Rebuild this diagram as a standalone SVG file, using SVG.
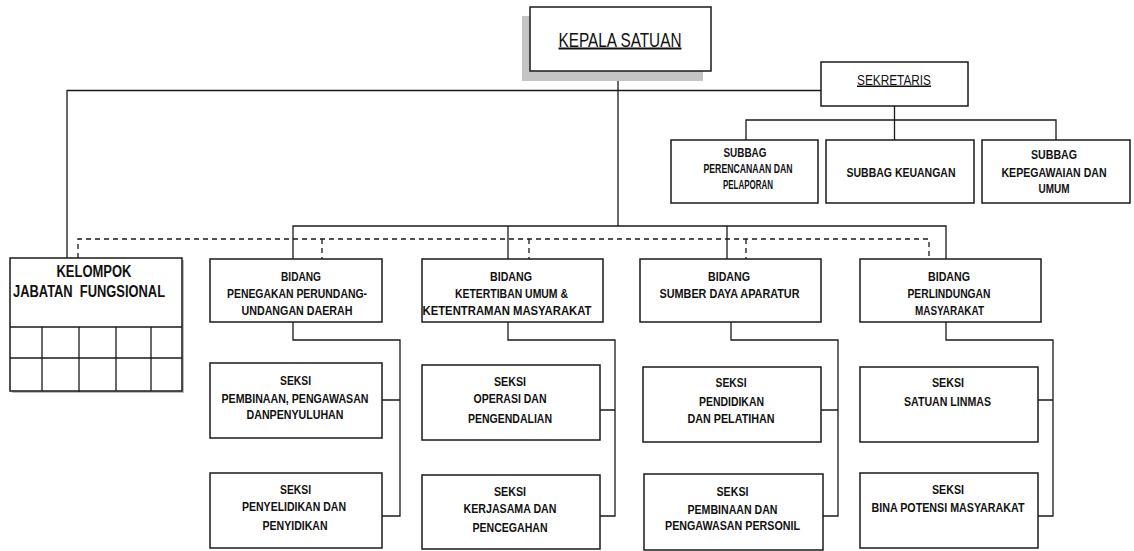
<svg xmlns="http://www.w3.org/2000/svg" width="1134" height="551" viewBox="0 0 1134 551">
<style>
.box{fill:#fff;stroke:#1a1a1a;stroke-width:1.5}
.ln{fill:none;stroke:#1a1a1a;stroke-width:1.3}
.dash{fill:none;stroke:#1a1a1a;stroke-width:1.3;stroke-dasharray:5,4}
text{font-family:"Liberation Sans",Arial,sans-serif;fill:#111;text-anchor:middle}
.b{font-weight:bold;font-size:12px}
.k{font-weight:bold;font-size:16px}
.t{font-size:20px;text-decoration:underline}
.s{font-size:15px;text-decoration:underline}
</style>
<rect width="1134" height="551" fill="#fff"/>
<g id="connectors">
<path class="ln" d="M618 71V226"/>
<path class="ln" d="M293 259V226H946V259M508 226V259M727 226V259"/>
<path class="ln" d="M67 258V90.5H821"/>
<path class="ln" d="M894.5 106V140M746 140V120H1056V140"/>
<path class="dash" d="M78 258V239H929V259M322 239V259M529 239V259M746 239V259"/>
<path class="ln" d="M293 322V340H400V516H382M382 400H400"/>
<path class="ln" d="M508 322V340H615V516H600M600 410H615"/>
<path class="ln" d="M731 322V340H838V516H822M821 410H838"/>
<path class="ln" d="M946 322V340H1053V516H1038M1038 400H1053"/>
</g>
<g id="kepala">
<rect x="522" y="16" width="181" height="65" fill="#c4c4c4"/>
<rect class="box" x="530" y="7" width="181" height="64"/>
<text class="t" x="620" y="46.5" textLength="123" lengthAdjust="spacingAndGlyphs">KEPALA SATUAN</text>
</g>
<g id="sekretaris">
<rect class="box" x="821" y="62" width="147" height="44"/>
<text class="s" x="894" y="84.5" textLength="74" lengthAdjust="spacingAndGlyphs">SEKRETARIS</text>
</g>
<g id="subbag1">
<rect class="box" x="671" y="140" width="147" height="63"/>
<text class="b" x="745" y="156.5" textLength="43" lengthAdjust="spacingAndGlyphs">SUBBAG</text>
<text class="b" x="748" y="173" textLength="89" lengthAdjust="spacingAndGlyphs">PERENCANAAN DAN</text>
<text class="b" x="748" y="189" textLength="50" lengthAdjust="spacingAndGlyphs">PELAPORAN</text>
</g>
<g id="subbag2">
<rect class="box" x="826" y="140" width="148" height="63"/>
<text class="b" x="901" y="177" textLength="109" lengthAdjust="spacingAndGlyphs">SUBBAG KEUANGAN</text>
</g>
<g id="subbag3">
<rect class="box" x="982" y="140" width="148" height="63"/>
<text class="b" x="1054" y="159" textLength="46" lengthAdjust="spacingAndGlyphs">SUBBAG</text>
<text class="b" x="1054" y="177" textLength="105" lengthAdjust="spacingAndGlyphs">KEPEGAWAIAN DAN</text>
<text class="b" x="1054" y="193" textLength="31" lengthAdjust="spacingAndGlyphs">UMUM</text>
</g>
<g id="kelompok">
<rect x="12" y="260" width="172" height="133" fill="#bdbdbd"/>
<rect class="box" x="10" y="258" width="172" height="133"/>
<path class="ln" d="M10 327H182" stroke-width="2"/>
<path class="ln" d="M10 358H182M42 327V391M79 327V392M116 327V391M151 327V391"/>
<text class="k" x="94" y="277" textLength="75" lengthAdjust="spacingAndGlyphs">KELOMPOK</text>
<text class="k" x="89" y="297" textLength="152" lengthAdjust="spacingAndGlyphs" xml:space="preserve">JABATAN  FUNGSIONAL</text>
</g>
<g id="bidang1">
<rect class="box" x="210" y="259" width="172" height="63"/>
<text class="b" x="301" y="280.5" textLength="40" lengthAdjust="spacingAndGlyphs">BIDANG</text>
<text class="b" x="297" y="298" textLength="140" lengthAdjust="spacingAndGlyphs">PENEGAKAN PERUNDANG-</text>
<text class="b" x="297" y="315" textLength="111" lengthAdjust="spacingAndGlyphs">UNDANGAN DAERAH</text>
</g>
<g id="bidang2">
<rect class="box" x="422" y="259" width="181" height="63"/>
<text class="b" x="511" y="280.5" textLength="42" lengthAdjust="spacingAndGlyphs">BIDANG</text>
<text class="b" x="511.5" y="298" textLength="113" lengthAdjust="spacingAndGlyphs">KETERTIBAN UMUM &amp;</text>
<text class="b" x="507" y="315" textLength="169" lengthAdjust="spacingAndGlyphs">KETENTRAMAN MASYARAKAT</text>
</g>
<g id="bidang3">
<rect class="box" x="640" y="259" width="181" height="63"/>
<text class="b" x="729" y="280.5" textLength="42" lengthAdjust="spacingAndGlyphs">BIDANG</text>
<text class="b" x="729.5" y="298" textLength="140" lengthAdjust="spacingAndGlyphs">SUMBER DAYA APARATUR</text>
</g>
<g id="bidang4">
<rect class="box" x="860" y="259" width="181" height="63"/>
<text class="b" x="949" y="280.5" textLength="42" lengthAdjust="spacingAndGlyphs">BIDANG</text>
<text class="b" x="949" y="298" textLength="83" lengthAdjust="spacingAndGlyphs">PERLINDUNGAN</text>
<text class="b" x="949.5" y="315" textLength="69" lengthAdjust="spacingAndGlyphs">MASYARAKAT</text>
</g>
<g id="seksi1">
<rect class="box" x="210" y="363" width="172" height="75"/>
<text class="b" x="295.5" y="385" textLength="31" lengthAdjust="spacingAndGlyphs">SEKSI</text>
<text class="b" x="295" y="403" textLength="147" lengthAdjust="spacingAndGlyphs">PEMBINAAN, PENGAWASAN</text>
<text class="b" x="295" y="419" textLength="97" lengthAdjust="spacingAndGlyphs">DANPENYULUHAN</text>
</g>
<g id="seksi2">
<rect class="box" x="210" y="473" width="172" height="75"/>
<text class="b" x="295.5" y="494" textLength="31" lengthAdjust="spacingAndGlyphs">SEKSI</text>
<text class="b" x="294" y="511" textLength="104" lengthAdjust="spacingAndGlyphs">PENYELIDIKAN DAN</text>
<text class="b" x="295" y="530" textLength="65" lengthAdjust="spacingAndGlyphs">PENYIDIKAN</text>
</g>
<g id="seksi3">
<rect class="box" x="422" y="365" width="178" height="75"/>
<text class="b" x="510" y="386" textLength="32" lengthAdjust="spacingAndGlyphs">SEKSI</text>
<text class="b" x="510" y="403" textLength="73" lengthAdjust="spacingAndGlyphs">OPERASI DAN</text>
<text class="b" x="510" y="422.5" textLength="84" lengthAdjust="spacingAndGlyphs">PENGENDALIAN</text>
</g>
<g id="seksi4">
<rect class="box" x="422" y="475" width="178" height="74"/>
<text class="b" x="510" y="495.5" textLength="32" lengthAdjust="spacingAndGlyphs">SEKSI</text>
<text class="b" x="510" y="512.5" textLength="93" lengthAdjust="spacingAndGlyphs">KERJASAMA DAN</text>
<text class="b" x="510" y="532" textLength="75" lengthAdjust="spacingAndGlyphs">PENCEGAHAN</text>
</g>
<g id="seksi5">
<rect class="box" x="643" y="367" width="178" height="75"/>
<text class="b" x="731" y="387" textLength="31" lengthAdjust="spacingAndGlyphs">SEKSI</text>
<text class="b" x="731.5" y="406" textLength="65" lengthAdjust="spacingAndGlyphs">PENDIDIKAN</text>
<text class="b" x="731" y="422.5" textLength="87" lengthAdjust="spacingAndGlyphs">DAN PELATIHAN</text>
</g>
<g id="seksi6">
<rect class="box" x="644" y="474" width="179" height="76"/>
<text class="b" x="732.5" y="495.5" textLength="32" lengthAdjust="spacingAndGlyphs">SEKSI</text>
<text class="b" x="732.5" y="514" textLength="90" lengthAdjust="spacingAndGlyphs">PEMBINAAN DAN</text>
<text class="b" x="732.5" y="530" textLength="135" lengthAdjust="spacingAndGlyphs">PENGAWASAN PERSONIL</text>
</g>
<g id="seksi7">
<rect class="box" x="860" y="367" width="178" height="75"/>
<text class="b" x="948" y="387" textLength="32" lengthAdjust="spacingAndGlyphs">SEKSI</text>
<text class="b" x="947.5" y="406" textLength="87" lengthAdjust="spacingAndGlyphs">SATUAN LINMAS</text>
</g>
<g id="seksi8">
<rect class="box" x="860" y="473" width="178" height="75"/>
<text class="b" x="948" y="494" textLength="32" lengthAdjust="spacingAndGlyphs">SEKSI</text>
<text class="b" x="948" y="511.5" textLength="153" lengthAdjust="spacingAndGlyphs">BINA POTENSI MASYARAKAT</text>
</g>
</svg>
